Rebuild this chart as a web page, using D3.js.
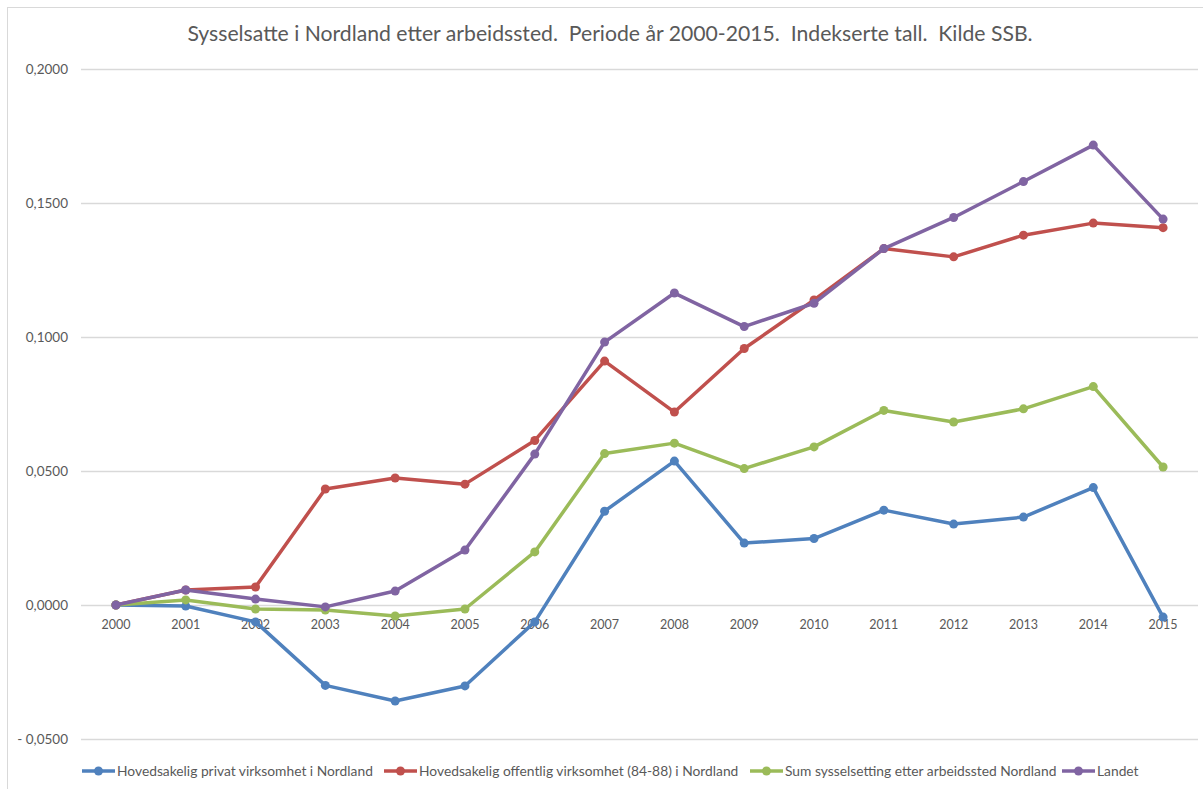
<!DOCTYPE html>
<html>
<head>
<meta charset="utf-8">
<script src="https://d3js.org/d3.v7.min.js"></script>
<style>
  body { margin: 0; background: #fff; }
  text { font-family: Lato, "Liberation Sans", sans-serif; fill: #595959; white-space: pre; }
</style>
</head>
<body>
<script>
// data
const years = ["2000","2001","2002","2003","2004","2005","2006","2007","2008","2009","2010","2011","2012","2013","2014","2015"];
const privat   = [0, -0.0004, -0.0063, -0.0300, -0.0358, -0.0302, -0.0063, 0.0350, 0.0537, 0.0231, 0.0248, 0.0354, 0.0302, 0.0328, 0.0438, -0.0045];
const offentlig = [0, 0.0056, 0.0067, 0.0433, 0.0474, 0.0451, 0.0614, 0.0910, 0.0720, 0.0957, 0.1138, 0.1330, 0.1299, 0.1380, 0.1425, 0.1408];
const sum      = [0, 0.0019, -0.0015, -0.0019, -0.0041, -0.0015, 0.0198, 0.0565, 0.0604, 0.0509, 0.0590, 0.0726, 0.0683, 0.0732, 0.0815, 0.0515];
const landet   = [0, 0.0056, 0.0022, -0.0007, 0.0052, 0.0205, 0.0563, 0.0981, 0.1164, 0.1039, 0.1126, 0.1330, 0.1446, 0.1580, 0.1716, 0.1440];
const seriesNames = [
  "Hovedsakelig privat virksomhet i Nordland",
  "Hovedsakelig offentlig virksomhet (84-88) i Nordland",
  "Sum sysselsetting etter arbeidssted Nordland",
  "Landet"
];
const colors = ["#4F81BD", "#C0504D", "#9BBB59", "#8064A2"];
const yTicks = [-0.05, 0, 0.05, 0.1, 0.15, 0.2];
const title = "Sysselsatte i Nordland etter arbeidssted.  Periode år 2000-2015.  Indekserte tall.  Kilde SSB.";

const W = 1203, H = 789;
const svg = d3.select("body").append("svg")
  .attr("width", W).attr("height", H);

// chart frame
svg.append("rect")
  .attr("x", 7.5).attr("y", 7.5)
  .attr("width", W).attr("height", H)
  .attr("fill", "none").attr("stroke", "#d9d9d9");

const x = d3.scaleBand().domain(years).range([81, 1198]);
const y = d3.scaleLinear().domain([-0.05, 0.2]).range([739, 69]);

// gridlines
svg.append("g").selectAll("line")
  .data(yTicks)
  .join("line")
    .attr("x1", 81).attr("x2", 1198)
    .attr("y1", d => Math.round(y(d)) + 0.5)
    .attr("y2", d => Math.round(y(d)) + 0.5)
    .attr("stroke", "#d9d9d9").attr("stroke-width", 1.3);

// y labels
const fmt = d => (d < 0 ? "- " : "") + d3.format(".4f")(Math.abs(d)).replace(".", ",");
svg.append("g").selectAll("text")
  .data(yTicks)
  .join("text")
    .attr("x", 68)
    .attr("y", d => y(d))
    .attr("dy", "0.35em")
    .attr("text-anchor", "end")
    .style("font-size", "13.5px")
    .text(fmt);

// x labels at the zero line
svg.append("g").selectAll("text")
  .data(years)
  .join("text")
    .attr("x", d => x(d) + x.bandwidth() / 2)
    .attr("y", y(0) + 20)
    .attr("dy", "0.35em")
    .attr("text-anchor", "middle")
    .style("font-size", "12.5px")
    .text(d => d);

// lines and markers
const allSeries = [privat, offentlig, sum, landet];
const line = d3.line()
  .x((d, i) => x(years[i]) + x.bandwidth() / 2)
  .y(d => y(d));

allSeries.forEach((vals, k) => {
  const g = svg.append("g");
  g.append("path")
    .datum(vals)
    .attr("d", line)
    .attr("fill", "none")
    .attr("stroke", colors[k])
    .attr("stroke-width", 3.5)
    .attr("stroke-linejoin", "round");
  g.selectAll("circle")
    .data(vals)
    .join("circle")
      .attr("cx", (d, i) => x(years[i]) + x.bandwidth() / 2)
      .attr("cy", d => y(d))
      .attr("r", 4.5)
      .attr("fill", colors[k]);
});

// title
svg.append("text")
  .attr("x", 610).attr("y", 41)
  .attr("text-anchor", "middle")
  .style("font-size", "21.2px")
  .text(title);

// legend
const legendX = [82, 384, 750, 1062];
const legend = svg.append("g").selectAll("g")
  .data(seriesNames)
  .join("g")
    .attr("transform", (d, i) => `translate(${legendX[i]},771)`);
legend.append("line")
  .attr("x1", 0).attr("x2", 33)
  .attr("stroke", (d, i) => colors[i]).attr("stroke-width", 3.5);
legend.append("circle")
  .attr("cx", 16.5).attr("r", 4.5)
  .attr("fill", (d, i) => colors[i]);
legend.append("text")
  .attr("x", 35).attr("dy", "0.35em")
  .style("font-size", "13.8px")
  .text(d => d);
</script>
</body>
</html>
